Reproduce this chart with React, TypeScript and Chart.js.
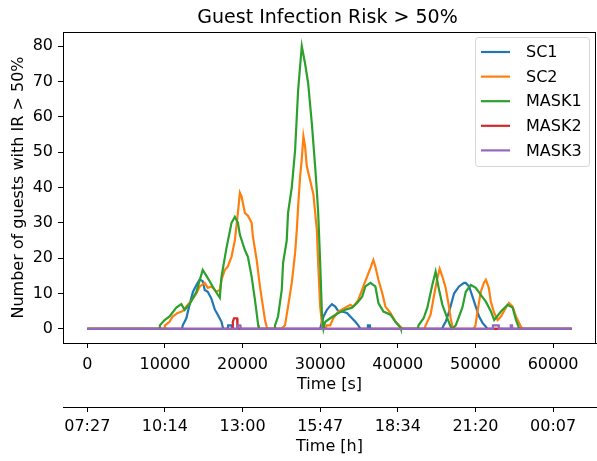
import React, { useEffect, useRef } from "react";
import { Chart, registerables } from "chart.js";

Chart.register(...registerables);

const FONT = '"DejaVu Sans", "Liberation Sans", sans-serif';

const chartTitle = "Guest Infection Risk > 50%";
const xAxisTitle = "Time [s]";
const x2AxisTitle = "Time [h]";
const yAxisTitle = "Number of guests with IR > 50%";

const seriesNames = ["SC1", "SC2", "MASK1", "MASK2", "MASK3"];
const seriesColors = ["#1f77b4", "#ff7f0e", "#2ca02c", "#d62728", "#9467bd"];

const xTicks = [0, 10000, 20000, 30000, 40000, 50000, 60000];
const xTickLabels = ["0", "10000", "20000", "30000", "40000", "50000", "60000"];
const hourTickLabels = ["07:27", "10:14", "13:00", "15:47", "18:34", "21:20", "00:07"];
const yTicks = [0, 10, 20, 30, 40, 50, 60, 70, 80];

const sc1Times = [0, 12200, 12300, 12760, 13190, 13620, 14060, 14480, 14870, 15130, 15520, 16000, 16420, 16810, 17290, 17500,
  18100, 18150, 18600, 18650,
  30000, 30220, 30430, 30870, 31290, 31510, 31940, 32330, 32810, 33450, 33880, 34530, 34910, 35170,
  36100, 36150, 36400, 36450,
  45700, 45900, 46160, 46550, 46810, 47240, 47880, 48530, 48750, 49180, 49620, 50040, 50470, 50910, 51340, 51550, 62400];
const sc1Values = [0, 0, 1, 3, 7, 10.5, 12.4, 14, 13.5, 11, 10.5, 8.5, 5.5, 4, 2, 0,
  0, 1, 1, 0,
  0, 2, 3.5, 5.4, 6.5, 7, 6.3, 5, 4.9, 4.5, 3.5, 2, 1, 0,
  0, 1, 1, 0,
  0, 1, 2, 4.5, 6.5, 10, 12, 13, 13, 12, 9.1, 6.3, 3.5, 1.7, 0.6, 0, 0];

const sc2Times = [0, 9950, 10000, 10600, 11000, 11640, 12280, 12930, 13410, 14060, 14480, 15130, 15520, 16000, 16640, 17070, 17290,
  17720, 18100, 18580, 19010, 19400, 19660, 19880, 20300, 20690, 21170, 21340, 21820, 22240, 22630, 22890, 23110, 23200,
  25000, 25470, 25860, 26340, 26770, 26990, 27160, 27410, 27630, 27840, 28060, 28280, 28710, 29130, 29570, 29740, 30000, 30220, 30400,
  30650, 30870, 31290, 31680, 32330, 33230, 33880, 34270, 34910, 35560, 36040, 36470, 36850, 37110, 37500, 37980, 38400, 39050,
  39700, 40350, 40600,
  43450, 43580, 44220, 44610, 45090, 45390, 45740, 46160, 46550, 46810, 47030, 47150,
  49780, 50000, 50260, 50690, 51080, 51340, 51720, 51980, 52410, 52850, 53280, 53920, 54310, 54790, 55220, 55860, 56100, 62400];
const sc2Values = [0, 0, 1, 2, 3.5, 4.5, 5, 6.8, 8, 10, 12, 13, 11.6, 12, 10.5, 11, 13.9,
  16.7, 17.6, 20.4, 25, 32.8, 38.5, 37.4, 32.8, 32, 30, 26, 19.5, 12, 6.3, 2.5, 0.6, 0,
  0, 1, 6.3, 13, 21.5, 28, 34.6, 43, 48, 54.5, 51.5, 46, 42, 38, 28, 18.6, 6.3, 1.7, 0,
  0, 1, 1, 3, 4.9, 6, 6.8, 6.3, 8.2, 12, 14.8, 17.2, 19.5, 17.6, 13.9, 10.2, 6.3, 4.5,
  2, 0.6, 0,
  0, 1, 4, 8.8, 14.4, 17, 14.8, 11.6, 6.8, 3, 0.6, 0,
  0, 1, 4.9, 10.5, 13, 13.9, 11.6, 7.7, 4.5, 2.5, 3.5, 6, 7.3, 6.3, 3.5, 0.6, 0, 0];

const mask1Times = [0, 9300, 9350, 9960, 10600, 11470, 12120, 12540, 13190, 14060, 14870, 15350, 15780, 16420, 17070, 17290,
  17940, 18580, 19010, 19400, 19660, 20300, 20690, 21170, 21600, 22020, 22100,
  24150, 24180, 24570, 25050, 25220, 25690, 25860, 26340, 26770, 27160, 27630, 28060, 28450, 28930, 29350, 29570, 29740, 30000,
  30220, 30430, 30650, 31290, 32330, 33230, 34100, 34750, 35390, 35820, 36470, 37110, 37500, 38150, 39050, 39700, 40350, 40400,
  42550, 42670, 43320, 43800, 44440, 44870, 45260, 45740, 46380, 46810, 47000, 47460, 48310, 48750, 49400, 50040, 50690, 51340,
  51980, 52410, 53280, 54140, 54790, 55220, 55600, 55730, 62400];
const mask1Values = [0, 0, 1, 2.5, 3.5, 6, 7, 5.4, 7, 10.5, 16.7, 15, 13.4, 11, 8.8, 14.8,
  23, 30, 31.7, 30, 26.6, 22.3, 20.4, 14.8, 8.2, 1, 0,
  0, 1, 3.5, 11, 18.6, 25, 32.8, 40, 50.6, 67.6, 80, 75, 69.5, 58, 46, 39, 33, 18.7,
  4.5, 0, 2, 3, 4.5, 5.4, 6, 7.3, 9, 12, 13, 12, 7.3, 4.9, 4, 2, 0.3, 0,
  0, 1, 3, 6, 12.4, 16.2, 11.6, 6.8, 3, 0.6, 0, 1, 6, 10.5, 12.4, 11.6, 9.6, 7.7,
  5, 2.5, 4.9, 6.8, 6, 2.5, 0.3, 0, 0];

const mask2Times = [0, 18700, 18750, 18900, 19300, 19350, 62400];
const mask2Values = [0, 0, 2, 3, 3, 0, 0];

const mask3Times = [0, 19300, 19350, 19700, 19750, 52200, 52250, 53000, 53050, 54500, 54550, 54700, 54750, 62400];
const mask3Values = [0, 0, 1, 1, 0, 0, 1, 1, 0, 0, 1, 1, 0, 0];

const seriesTimes = [sc1Times, sc2Times, mask1Times, mask2Times, mask3Times];
const seriesValues = [sc1Values, sc2Values, mask1Values, mask2Values, mask3Values];

const X_MIN = -3125;
const X_MAX = 65525;

const decorPlugin = {
  id: "decor",
  afterDraw(chart: any) {
    const ctx = chart.ctx;
    const a = chart.chartArea;
    ctx.save();
    // frame
    ctx.strokeStyle = "#000";
    ctx.lineWidth = 1;
    ctx.strokeRect(a.left + 0.5, a.top + 0.5, a.right - a.left - 1, a.bottom - a.top);
    // title
    ctx.fillStyle = "#000";
    ctx.textAlign = "center";
    ctx.textBaseline = "alphabetic";
    ctx.font = `19px ${FONT}`;
    const cx = (a.left + a.right) / 2;
    ctx.fillText(chartTitle, cx - 2, 23);
    // axis titles
    ctx.font = `16px ${FONT}`;
    ctx.fillText(xAxisTitle, cx, 389);
    ctx.fillText(x2AxisTitle, cx, 451);
    ctx.save();
    ctx.translate(23, (a.top + a.bottom) / 2);
    ctx.rotate(-Math.PI / 2);
    ctx.fillText(yAxisTitle, 0, 0);
    ctx.restore();
    // legend
    const lx = 475, ly = 37, lw = 114, lh = 129;
    ctx.beginPath();
    ctx.roundRect(lx + 0.5, ly + 0.5, lw, lh, 3);
    ctx.fillStyle = "rgba(255,255,255,0.8)";
    ctx.fill();
    ctx.strokeStyle = "rgba(204,204,204,0.8)";
    ctx.lineWidth = 1;
    ctx.stroke();
    ctx.textAlign = "left";
    ctx.textBaseline = "middle";
    chart.data.datasets.forEach((ds: any, i: number) => {
      const y = 52 + i * 24.6;
      ctx.strokeStyle = ds.borderColor;
      ctx.lineWidth = 2.2;
      ctx.beginPath();
      ctx.moveTo(481, y);
      ctx.lineTo(510, y);
      ctx.stroke();
      ctx.fillStyle = "#000";
      ctx.fillText(ds.label, 526, y + 1);
    });
    ctx.restore();
  },
};

export default function App() {
  const ref = useRef<HTMLCanvasElement | null>(null);
  useEffect(() => {
    if (!ref.current) return;
    const tickFont = { family: FONT, size: 16 };
    const setXTicks = (s: any) => {
      s.ticks = xTicks.map((v) => ({ value: v }));
    };
    const chart = new Chart(ref.current, {
      type: "line",
      data: {
        datasets: seriesNames.map((name, i) => ({
          label: name,
          data: seriesTimes[i].map((t, j) => ({ x: t, y: seriesValues[i][j] })),
          borderColor: seriesColors[i],
          backgroundColor: seriesColors[i],
          borderWidth: 2.2,
          pointRadius: 0,
          tension: 0,
          fill: false,
          order: seriesNames.length - i,
        })),
      },
      options: {
        animation: false,
        responsive: false,
        events: [],
        layout: { padding: { top: 32, right: 1, left: 0, bottom: 0 } },
        plugins: {
          legend: { display: false },
          title: { display: false },
          tooltip: { enabled: false },
        },
        scales: {
          x: {
            type: "linear",
            position: "bottom",
            weight: 0,
            min: X_MIN,
            max: X_MAX,
            afterBuildTicks: setXTicks,
            afterFit: (s: any) => {
              s.height = 64;
            },
            ticks: {
              autoSkip: false,
              maxRotation: 0,
              color: "#000",
              font: tickFont,
              padding: 7,
              callback: (_v: any, i: number) => xTickLabels[i],
            },
            grid: { drawOnChartArea: false, drawTicks: true, tickLength: 5, color: "#000", lineWidth: 1 },
            border: { display: true, color: "#000", width: 1 },
          },
          x2: {
            type: "linear",
            position: "bottom",
            weight: 1,
            min: X_MIN,
            max: X_MAX,
            afterBuildTicks: setXTicks,
            afterFit: (s: any) => {
              s.height = 54;
            },
            ticks: {
              autoSkip: false,
              maxRotation: 0,
              color: "#000",
              font: tickFont,
              padding: 5,
              callback: (_v: any, i: number) => hourTickLabels[i],
            },
            grid: { drawOnChartArea: false, drawTicks: true, tickLength: 5, color: "#000", lineWidth: 1 },
            border: { display: true, color: "#000", width: 1 },
          },
          y: {
            type: "linear",
            min: -4,
            max: 84,
            afterBuildTicks: (s: any) => {
              s.ticks = yTicks.map((v) => ({ value: v }));
            },
            afterFit: (s: any) => {
              s.width = 63;
            },
            ticks: { color: "#000", font: tickFont, padding: 5, autoSkip: false },
            grid: { drawOnChartArea: false, drawTicks: true, tickLength: 5, color: "#000", lineWidth: 1 },
            border: { display: true, color: "#000", width: 1 },
          },
        },
      },
      plugins: [decorPlugin],
    });
    return () => chart.destroy();
  }, []);
  return (
    <div style={{ position: "absolute", left: 0, top: 0, width: 597, height: 461, background: "#fff" }}>
      <canvas ref={ref} width={597} height={461} style={{ display: "block" }} />
    </div>
  );
}
